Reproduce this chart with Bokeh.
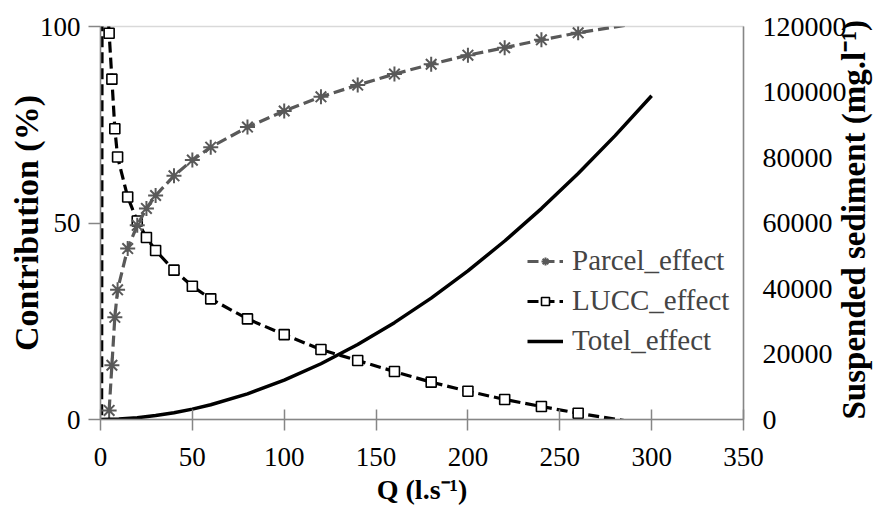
import math
from bokeh.plotting import figure
from bokeh.models import (Range1d, LinearAxis, Legend, LegendItem, FixedTicker,
                          BasicTickFormatter)
from bokeh.embed import file_html
from bokeh.resources import INLINE

# ---- data ----
q_pts = [4.7, 6.2, 7.8, 9.3, 14.8, 20, 25, 30, 40, 50, 60, 80, 100, 120, 140,
         160, 180, 200, 220, 240, 260, 300]
lucc = [98.3, 86.6, 74.0, 66.8, 56.6, 50.5, 46.3, 43.0, 38.0, 33.9, 30.7, 25.6,
        21.6, 17.8, 15.0, 12.2, 9.5, 7.2, 5.1, 3.3, 1.6, -1.4]
parcel = [2.3, 13.8, 26.0, 33.0, 43.5, 49.4, 53.7, 57.0, 62.0, 66.0, 69.3, 74.4,
          78.5, 82.1, 85.1, 87.9, 90.4, 92.7, 94.6, 96.6, 98.4, 101.4]
# leading LUCC points (steep rise at Q ~ 0)
q_lucc_lead = [0.5, 0.9]
lucc_lead = [-60.0, 130.0]

q_total = [0, 10, 20, 30, 40, 50, 60, 80, 100, 120, 140, 160, 180, 200, 220,
           240, 260, 280, 300]
total = [0, 144, 544, 1190, 2064, 3170, 4497, 7810, 11995, 17020, 22880, 29570,
         37070, 45380, 54500, 64400, 75100, 86600, 98850]

x_ticks = [0, 50, 100, 150, 200, 250, 300, 350]
y_ticks = [0, 50, 100]
y2_ticks = [0, 20000, 40000, 60000, 80000, 100000, 120000]

FONT = "'Liberation Serif', 'Times New Roman', serif"
GRAY = "#595959"
AX = "#868686"

p = figure(width=892, height=507, x_range=Range1d(0, 350), y_range=Range1d(0, 100),
           output_backend="svg", toolbar_location=None,
           min_border_left=100, min_border_right=148, min_border_top=26,
           min_border_bottom=88)
p.extra_y_ranges = {"sed": Range1d(0, 120000)}
p.xgrid.visible = False
p.ygrid.visible = False
p.outline_line_color = "#d9d9d9"
p.outline_line_width = 1.5

# series
lead_x = q_lucc_lead + q_pts
lead_y = lucc_lead + lucc
r_lucc_line = p.line(lead_x, lead_y, line_color="black", line_width=3.2, line_dash="11 5")
vis = [i for i, v in enumerate(lucc) if 0 <= v <= 100]
r_lucc_mk = p.scatter([q_pts[i] for i in vis], [lucc[i] for i in vis], marker="square",
                      size=10, fill_color="white", line_color="black", line_width=1.6)

r_par_line = p.line(q_pts, parcel, line_color=GRAY, line_width=3.2, line_dash="11 5")
visp = [i for i, v in enumerate(parcel) if 0 <= v <= 100]
r_par_mk = p.scatter([q_pts[i] for i in visp], [parcel[i] for i in visp], marker="asterisk",
                     size=15, line_color=GRAY, line_width=2)

r_tot = p.line(q_total, total, line_color="black", line_width=3.5, y_range_name="sed")

# axes styling
def style(ax, size="27px", tsize="28px"):
    ax.axis_line_color = AX
    ax.axis_line_width = 1.5
    ax.major_tick_line_color = AX
    ax.major_tick_line_width = 1.5
    ax.minor_tick_line_color = None
    ax.major_label_text_font = FONT
    ax.major_label_text_font_size = size
    ax.major_label_text_color = "black"
    ax.axis_label_text_font = FONT
    ax.axis_label_text_font_style = "bold"
    ax.axis_label_text_font_size = tsize
    ax.axis_label_text_color = "black"

xa = p.xaxis[0]
xa.ticker = FixedTicker(ticks=x_ticks)
xa.axis_label = "Q (l.s\u207b\u00b9)"
style(xa)
xa.major_tick_in = 10
xa.major_tick_out = 11
xa.major_label_standoff = 17
xa.axis_label_standoff = 5

ya = p.yaxis[0]
ya.ticker = FixedTicker(ticks=y_ticks)
ya.axis_label = "Contribution (%)"
style(ya, tsize="34px")
ya.major_tick_in = 0
ya.major_tick_out = 12
ya.major_label_standoff = 8
ya.axis_label_standoff = -8

ya2 = LinearAxis(y_range_name="sed", ticker=FixedTicker(ticks=y2_ticks),
                 formatter=BasicTickFormatter(use_scientific=False),
                 axis_label="Suspended sediment (mg.l\u207b\u00b9)")
style(ya2, "28px", "33px")
ya2.major_tick_in = 0
ya2.major_tick_out = 0
ya2.major_label_standoff = 19
ya2.axis_label_standoff = 4
ya2.axis_label_orientation = math.pi / 2
ya2.axis_label_align = "start"
p.add_layout(ya2, "right")

legend = Legend(items=[
    LegendItem(label="Parcel_effect", renderers=[r_par_line, r_par_mk]),
    LegendItem(label="LUCC_effect", renderers=[r_lucc_line, r_lucc_mk]),
    LegendItem(label="Totel_effect", renderers=[r_tot]),
], location=(427, 62))
legend.label_text_font = FONT
legend.label_text_font_size = "29px"
legend.glyph_width = 36
legend.label_standoff = 9
legend.spacing = 7
legend.padding = 0
legend.margin = 0
legend.border_line_alpha = 0
legend.background_fill_alpha = 0
p.add_layout(legend, "center")

open("out.html", "w").write(file_html(p, INLINE))
